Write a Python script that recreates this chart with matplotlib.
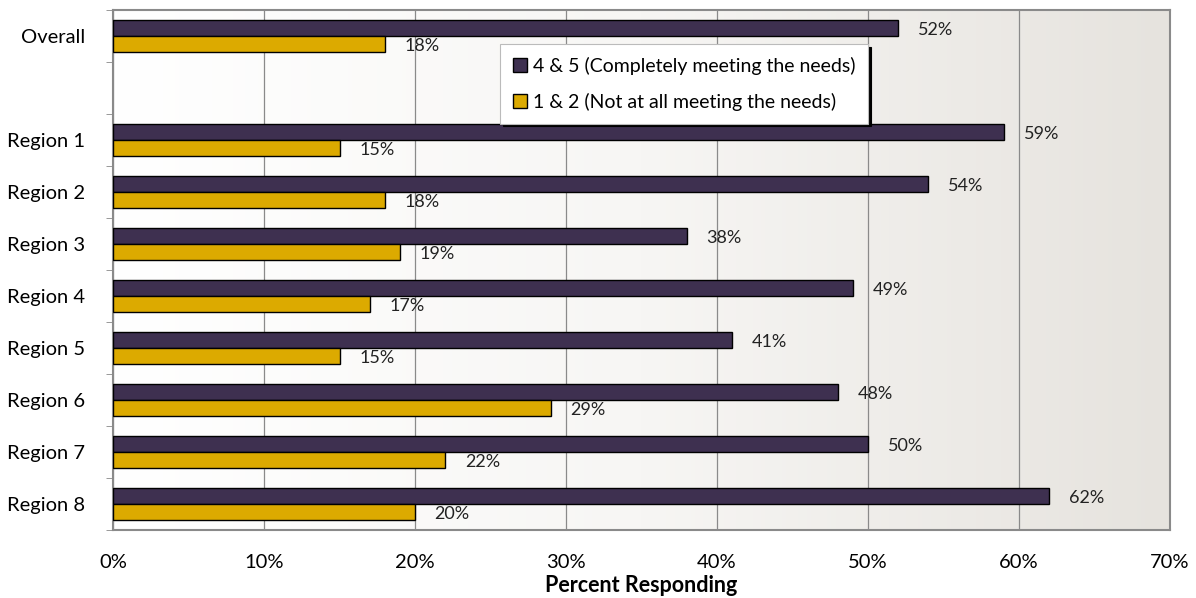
import numpy as np
import matplotlib.pyplot as plt
from matplotlib.colors import LinearSegmentedColormap

plt.rcParams['font.family'] = ['Lato', 'DejaVu Sans']

# data
categories = ['Overall', '', 'Region 1', 'Region 2', 'Region 3', 'Region 4',
              'Region 5', 'Region 6', 'Region 7', 'Region 8']
meeting = [52, None, 59, 54, 38, 49, 41, 48, 50, 62]
not_meeting = [18, None, 15, 18, 19, 17, 15, 29, 22, 20]
series_names = ['4 & 5 (Completely meeting the needs)',
                '1 & 2 (Not at all meeting the needs)']

PURPLE = '#3e3050'
GOLD = '#dcaa00'

fig = plt.figure(figsize=(11.96, 5.98), dpi=100)
ax = fig.add_axes([113 / 1196, 68 / 598, 1057 / 1196, 520 / 598])

# background gradient white -> light grey
cmap = LinearSegmentedColormap.from_list('bg', ['#ffffff', '#f7f6f4', '#e6e3de'])
grad = np.linspace(0, 1, 256).reshape(1, -1)
ax.imshow(grad, extent=[0, 70, -0.5, len(categories) - 0.5], aspect='auto',
          cmap=cmap, zorder=0)

y = np.arange(len(categories))
h = 0.3
for i, (a, b) in enumerate(zip(meeting, not_meeting)):
    if a is None:
        continue
    ax.barh(i - h / 2, a, height=h, color=PURPLE, edgecolor='black',
            linewidth=1.0, zorder=3, label=series_names[0] if i == 0 else None)
    ax.barh(i + h / 2, b, height=h, color=GOLD, edgecolor='black',
            linewidth=1.0, zorder=3, label=series_names[1] if i == 0 else None)
    ax.text(a + 1.3, i - h / 2 + 0.04, f'{a}%', va='center', ha='left',
            fontsize=13, color='#222222', zorder=4)
    ax.text(b + 1.3, i + h / 2 + 0.04, f'{b}%', va='center', ha='left',
            fontsize=13, color='#222222', zorder=4)

ax.set_xlim(0, 70)
ax.set_ylim(len(categories) - 0.5, -0.5)
ax.set_yticks(y)
ax.set_yticklabels(categories, fontsize=14.5)
ax.set_yticks(np.arange(-0.5, len(categories), 1), minor=True)
ax.tick_params(axis='y', which='major', length=0, pad=20)
ax.tick_params(axis='y', which='minor', length=5, color='#888888')
ax.set_xticks(np.arange(0, 71, 10))
ax.set_xticklabels([f'{v}%' for v in range(0, 71, 10)], fontsize=14.5)
ax.tick_params(axis='x', length=0, pad=17)
ax.grid(axis='x', color='#8a8a8a', linewidth=0.9, zorder=1)
ax.set_axisbelow(True)
for s in ax.spines.values():
    s.set_color('#8a8a8a')
    s.set_linewidth(1.5)
ax.set_xlabel('Percent Responding', fontsize=15.5, fontweight='bold', labelpad=3)

leg = ax.legend(loc='upper left', bbox_to_anchor=(0.366, 0.935), fontsize=14,
                frameon=True, fancybox=False, shadow={'color': 'black', 'alpha': 1.0},
                handlelength=0.75, handleheight=0.75, handletextpad=0.3,
                labelspacing=0.95, borderpad=0.65, borderaxespad=0)
leg.get_frame().set_edgecolor('#bbbbbb')
leg.get_frame().set_linewidth(0.8)
leg.set_zorder(5)

fig.savefig('out.png', dpi=100)
